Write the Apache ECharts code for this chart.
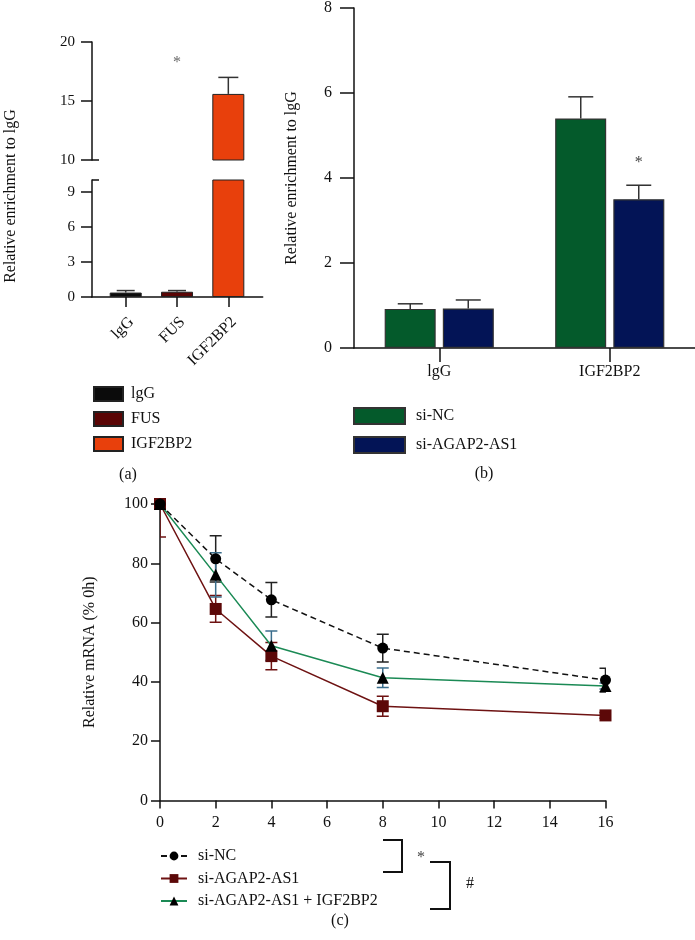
<!DOCTYPE html>
<html><head><meta charset="utf-8">
<script src="https://cdn.jsdelivr.net/npm/echarts@6/dist/echarts.min.js"></script>
<style>html,body{margin:0;padding:0;background:#fff}#c{width:695px;height:940px}</style>
</head><body><div id="c"></div>
<script>
const FONT = 'Liberation Serif';

// ---- Panel (a): RIP enrichment ----
const ripCategories = ['lgG', 'FUS', 'IGF2BP2'];
const ripValues = [0.38, 0.45, 15.6];
const ripErrors = [0.17, 0.1, 1.4];
const ripMarks = ['', '*', ''];
const ripMarkLevel = 18.2;
const ripUpperTicks = [10, 15, 20];
const ripLowerTicks = [0, 3, 6, 9];

// ---- Panel (b): knockdown RIP ----
const knockCategories = ['lgG', 'IGF2BP2'];
const siNCValues = [0.92, 5.4];
const siNCErrors = [0.12, 0.51];
const siAGAPValues = [0.93, 3.5];
const siAGAPErrors = [0.2, 0.33];
const siAGAPMarks = ['', '*'];

// ---- Panel (c): mRNA decay ----
const timePoints = [0, 2, 4, 8, 16];
const ncDecay = [100, 81.5, 67.7, 51.4, 40.6];
const ncDecayErr = [0, 7.8, 5.8, 4.7, 4.0];
const kdDecay = [100, 64.6, 48.7, 31.8, 28.7];
const kdDecayErr = [11.1, 4.5, 4.6, 3.4, 1.0];
const rescueDecay = [100, 76.1, 52.2, 41.4, 38.6];
const rescueDecayErr = [0, 7.5, 5.0, 3.3, 1.0];
const decayNames = ['si-NC', 'si-AGAP2-AS1', 'si-AGAP2-AS1 + IGF2BP2'];

const AX = '#111';
const chart = echarts.init(document.getElementById('c'), null, {renderer: 'canvas'});

function errUp(capHalf, color, offset, marks) {
  return function (params, api) {
    const x = api.value(0), y = api.value(1), e = api.value(2);
    const base = api.coord([x, y]);
    const top = api.coord([x, y + e]);
    const cx = base[0] + (offset || 0);
    const ch = [
      {type: 'line', shape: {x1: cx, y1: base[1], x2: cx, y2: top[1]}, style: {stroke: color, lineWidth: 1.5}},
      {type: 'line', shape: {x1: cx - capHalf, y1: top[1], x2: cx + capHalf, y2: top[1]}, style: {stroke: color, lineWidth: 1.5}}
    ];
    if (marks && marks[params.dataIndex]) {
      ch.push({type: 'text', style: {text: marks[params.dataIndex], x: cx, y: top[1] - 22, align: 'center', verticalAlign: 'middle', fontFamily: FONT, fontSize: 16, fill: '#444'}});
    }
    return {type: 'group', children: ch};
  };
}
function errBoth(capHalf, color) {
  return function (params, api) {
    const x = api.value(0), y = api.value(1), e = api.value(2);
    if (!e) return null;
    const lo = api.coord([x, y - e]);
    const hi = api.coord([x, y + e]);
    const cx = lo[0];
    const st = {stroke: color, lineWidth: 1.5};
    return {type: 'group', children: [
      {type: 'line', shape: {x1: cx, y1: lo[1], x2: cx, y2: hi[1]}, style: st},
      {type: 'line', shape: {x1: cx - capHalf, y1: lo[1], x2: cx + capHalf, y2: lo[1]}, style: st},
      {type: 'line', shape: {x1: cx - capHalf, y1: hi[1], x2: cx + capHalf, y2: hi[1]}, style: st}
    ]};
  };
}

const series = [];
const ripColors = ['#0b0b0b', '#5a0505', '#e8400c'];
[0, 1].forEach(g => {
  ripCategories.forEach((name, i) => {
    series.push({
      type: 'bar', name: name, xAxisIndex: g, yAxisIndex: g, barWidth: 32, barGap: '-100%',
      data: [[i, ripValues[i]]], clip: true, silent: true,
      itemStyle: {color: ripColors[i], borderColor: '#222', borderWidth: 1}
    });
  });
  const lim = g === 0 ? (v => v > 10) : (v => v < 10);
  series.push({
    type: 'custom', xAxisIndex: g, yAxisIndex: g, clip: true, z: 5, silent: true,
    data: ripValues.map((v, i) => [i, v, ripErrors[i]]).filter(d => lim(d[1])),
    renderItem: errUp(g === 0 ? 10 : 9, '#333', 0)
  });
});
series.push({
  type: 'scatter', xAxisIndex: 0, yAxisIndex: 0, symbolSize: 0, silent: true,
  data: ripMarks.map((m, i) => m ? {value: [i, ripMarkLevel], label: {formatter: m}} : null).filter(Boolean),
  label: {show: true, position: 'inside', fontFamily: FONT, fontSize: 16, color: '#444'}
});

// panel (b)
series.push({
  type: 'bar', name: 'b:si-NC', xAxisIndex: 2, yAxisIndex: 2, data: siNCValues, barWidth: 51, barGap: '14%', silent: true,
  itemStyle: {color: '#045a2b', borderColor: '#333', borderWidth: 1.2}
});
series.push({
  type: 'bar', name: 'b:si-AGAP2-AS1', xAxisIndex: 2, yAxisIndex: 2, data: siAGAPValues, barWidth: 51, barGap: '14%', silent: true,
  itemStyle: {color: '#031456', borderColor: '#333', borderWidth: 1.2}
});
series.push({
  type: 'custom', xAxisIndex: 2, yAxisIndex: 2, z: 5, silent: true,
  data: siNCValues.map((v, i) => [i, v, siNCErrors[i]]), renderItem: errUp(12.5, '#333', -29)
});
series.push({
  type: 'custom', xAxisIndex: 2, yAxisIndex: 2, z: 5, silent: true,
  data: siAGAPValues.map((v, i) => [i, v, siAGAPErrors[i]]), renderItem: errUp(12.5, '#333', 29, siAGAPMarks)
});

// panel (c)
const decaySets = [
  {vals: ncDecay, err: ncDecayErr, symbol: 'circle', size: 11, line: '#111', dash: [6, 4], item: '#000', errC: '#222', z: 6},
  {vals: kdDecay, err: kdDecayErr, symbol: 'rect', size: 12, line: '#6e1212', dash: 'solid', item: '#5c0808', errC: '#6e1212', z: 4},
  {vals: rescueDecay, err: rescueDecayErr, symbol: 'triangle', size: 12, line: '#1b8a55', dash: 'solid', item: '#000', errC: '#3b6e8c', z: 5}
];
decaySets.forEach((s, k) => {
  series.push({
    type: 'custom', xAxisIndex: 3, yAxisIndex: 3, clip: true, z: 2, silent: true,
    data: timePoints.map((t, i) => [t, s.vals[i], s.err[i]]), renderItem: errBoth(6, s.errC)
  });
});
decaySets.forEach((s, k) => {
  series.push({
    type: 'line', name: 'c:' + decayNames[k], xAxisIndex: 3, yAxisIndex: 3, z: s.z, silent: true,
    data: timePoints.map((t, i) => [t, s.vals[i]]),
    symbol: s.symbol, symbolSize: s.size, showAllSymbol: true,
    lineStyle: {color: s.line, width: 1.5, type: s.dash},
    itemStyle: {color: s.item}
  });
});

const axLine = {show: true, onZero: false, lineStyle: {color: AX, width: 1.5}};
const tickStyle = {color: AX, width: 1.5};
const lbl = {fontFamily: FONT, fontSize: 16, color: '#111'};
const stripPrefix = n => n.replace(/^[bc]:/, '');

const option = {
  animation: false,
  backgroundColor: '#fff',
  textStyle: {fontFamily: FONT},
  grid: [
    {left: 92, top: 42, width: 170.7, height: 118},
    {left: 92, top: 180, width: 170.7, height: 117},
    {left: 354, top: 7, width: 344, height: 341},
    {left: 160, top: 504, width: 445.5, height: 296.5}
  ],
  xAxis: [
    {gridIndex: 0, type: 'value', min: -0.657, max: 2.67, show: false, splitLine: {show: false}},
    {gridIndex: 1, type: 'value', min: -0.657, max: 2.67, splitLine: {show: false}, axisLine: axLine,
      axisTick: {show: true, length: 10, customValues: [0, 1, 2], lineStyle: tickStyle},
      axisLabel: Object.assign({customValues: [0, 1, 2], formatter: v => ripCategories[v], rotate: 45, margin: 17, align: 'right', verticalAlign: 'top'}, lbl)},
    {gridIndex: 2, type: 'category', data: knockCategories, axisLine: axLine,
      axisTick: {show: true, length: 14, alignWithLabel: true, lineStyle: tickStyle},
      axisLabel: Object.assign({margin: 16}, lbl)},
    {gridIndex: 3, type: 'value', min: 0, max: 16, interval: 2, splitLine: {show: false}, axisLine: axLine,
      axisTick: {show: true, length: 8, lineStyle: tickStyle},
      axisLabel: Object.assign({margin: 14}, lbl)}
  ],
  yAxis: [
    {gridIndex: 0, type: 'value', min: 10, max: 20, interval: 5, splitLine: {show: false}, axisLine: axLine,
      axisTick: {show: true, length: 11, lineStyle: tickStyle},
      axisLabel: Object.assign({}, lbl, {fontSize: 15, margin: 17, customValues: ripUpperTicks})},
    {gridIndex: 1, type: 'value', min: 0, max: 10, interval: 1, splitLine: {show: false}, axisLine: axLine,
      axisTick: {show: true, length: 11, lineStyle: tickStyle, customValues: ripLowerTicks},
      axisLabel: Object.assign({}, lbl, {fontSize: 15, margin: 17, customValues: ripLowerTicks})},
    {gridIndex: 2, type: 'value', min: 0, max: 8, interval: 2, splitLine: {show: false}, axisLine: axLine,
      axisTick: {show: true, length: 14, lineStyle: tickStyle},
      axisLabel: Object.assign({margin: 22}, lbl),
      name: 'Relative enrichment to lgG', nameLocation: 'middle', nameGap: 54, nameRotate: 90,
      nameTextStyle: {fontFamily: FONT, fontSize: 16, color: '#111'}},
    {gridIndex: 3, type: 'value', min: 0, max: 100, interval: 20, splitLine: {show: false}, axisLine: axLine,
      axisTick: {show: true, length: 9, lineStyle: tickStyle},
      axisLabel: Object.assign({margin: 12}, lbl),
      name: 'Relative mRNA (% 0h)', nameLocation: 'middle', nameGap: 62, nameRotate: 90,
      nameTextStyle: {fontFamily: FONT, fontSize: 16, color: '#111'}}
  ],
  legend: [
    {data: ripCategories, left: 93, top: 386, orient: 'vertical', itemWidth: 29, itemHeight: 14, itemGap: 9, padding: 0,
      icon: 'rect', selectedMode: false, textStyle: Object.assign({padding: [0, 0, 0, 3]}, lbl)},
    {data: ['b:si-NC', 'b:si-AGAP2-AS1'], left: 353, top: 407, orient: 'vertical', itemWidth: 51, itemHeight: 16, itemGap: 11, padding: 0,
      icon: 'rect', selectedMode: false, formatter: stripPrefix, textStyle: Object.assign({padding: [0, 0, 0, 6]}, lbl)},
    {data: decayNames.map(n => 'c:' + n), left: 160, top: 848, orient: 'vertical', itemWidth: 26, itemHeight: 11, itemGap: 6.5, padding: 0,
      selectedMode: false, formatter: stripPrefix, textStyle: Object.assign({padding: [0, 0, 0, 6]}, lbl)}
  ],
  graphic: [
    {type: 'text', x: 11, y: 196, rotation: Math.PI / 2, style: {text: 'Relative enrichment to lgG', align: 'center', verticalAlign: 'middle', fontFamily: FONT, fontSize: 16, fill: '#111'}},
    {type: 'line', shape: {x1: 92, y1: 160, x2: 99, y2: 160}, style: {stroke: AX, lineWidth: 1.5}},
    {type: 'line', shape: {x1: 92, y1: 180, x2: 99, y2: 180}, style: {stroke: AX, lineWidth: 1.5}},
    {type: 'text', x: 128, y: 475, style: {text: '(a)', align: 'center', verticalAlign: 'middle', fontFamily: FONT, fontSize: 16, fill: '#111'}},
    {type: 'text', x: 484, y: 474, style: {text: '(b)', align: 'center', verticalAlign: 'middle', fontFamily: FONT, fontSize: 16, fill: '#111'}},
    {type: 'text', x: 340, y: 921, style: {text: '(c)', align: 'center', verticalAlign: 'middle', fontFamily: FONT, fontSize: 16, fill: '#111'}},
    {type: 'polyline', shape: {points: [[383, 840], [402, 840], [402, 872], [383, 872]]}, style: {stroke: '#111', lineWidth: 2, fill: null}},
    {type: 'polyline', shape: {points: [[430, 862], [450, 862], [450, 909], [430, 909]]}, style: {stroke: '#111', lineWidth: 2, fill: null}},
    {type: 'text', x: 421, y: 858, style: {text: '*', align: 'center', verticalAlign: 'middle', fontFamily: FONT, fontSize: 16, fill: '#444'}},
    {type: 'text', x: 470, y: 884, style: {text: '#', align: 'center', verticalAlign: 'middle', fontFamily: FONT, fontSize: 16, fill: '#111'}}
  ],
  series: series
};
chart.setOption(option);
</script></body></html>
